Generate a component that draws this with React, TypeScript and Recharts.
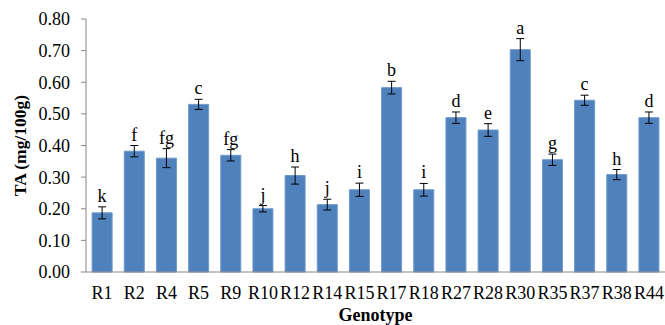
import { BarChart, Bar, XAxis, YAxis, ErrorBar, LabelList } from "recharts";

const genotypes = ["R1", "R2", "R4", "R5", "R9", "R10", "R12", "R14", "R15", "R17", "R18", "R27", "R28", "R30", "R35", "R37", "R38", "R44"];
const taValues = [0.187, 0.382, 0.36, 0.53, 0.369, 0.2, 0.305, 0.213, 0.26, 0.583, 0.26, 0.488, 0.449, 0.703, 0.355, 0.543, 0.308, 0.488];
const taErrors = [0.019, 0.018, 0.03, 0.016, 0.018, 0.01, 0.027, 0.017, 0.021, 0.02, 0.02, 0.018, 0.02, 0.035, 0.018, 0.016, 0.016, 0.018];
const letters = ["k", "f", "fg", "c", "fg", "j", "h", "j", "i", "b", "i", "d", "e", "a", "g", "c", "h", "d"];
const yTicks = [0, 0.1, 0.2, 0.3, 0.4, 0.5, 0.6, 0.7, 0.8];

const data = genotypes.map((name, i) => ({
  name,
  ta: taValues[i],
  err: taErrors[i],
  letter: letters[i],
}));

const FONT = "'Liberation Serif', 'Times New Roman', serif";

function LetterLabel(props: any) {
  const vb = props.viewBox || {};
  const x = props.x ?? vb.x;
  const y = props.y ?? vb.y;
  const width = props.width ?? vb.width;
  const height = props.height ?? vb.height;
  const d = data[props.index];
  if (!d) return null;
  const errPx = (d.err / d.ta) * height;
  return (
    <text
      x={x + width / 2}
      y={y - errPx - 5}
      textAnchor="middle"
      fontFamily={FONT}
      fontSize={18}
      fill="#000"
    >
      {d.letter}
    </text>
  );
}

export default function App() {
  return (
    <div style={{ position: "absolute", left: 0, top: 0, background: "#fff" }}>
      <BarChart
        width={665}
        height={325}
        data={data}
        margin={{ top: 19, right: 0, left: 30, bottom: 23 }}
        barCategoryGap="19%"
      >
        <XAxis
          dataKey="name"
          height={30}
          tickLine={false}
          stroke="#888"
          interval={0}
          tickMargin={8}
          tick={{ fill: "#000", fontSize: 18, fontFamily: FONT }}
          label={{
            value: "Genotype",
            position: "bottom",
            offset: 6,
            style: { fontFamily: FONT, fontWeight: "bold", fontSize: 18, fill: "#000" },
          }}
        />
        <YAxis
          width={56}
          domain={[0, 0.8]}
          ticks={yTicks}
          tickFormatter={(v: number) => v.toFixed(2)}
          tickSize={5}
          tickMargin={11}
          stroke="#888"
          tick={{ fill: "#000", fontSize: 18, fontFamily: FONT }}
          label={{
            value: "TA (mg/100g)",
            angle: -90,
            position: "center",
            dx: -38,
            style: { fontFamily: FONT, fontWeight: "bold", fontSize: 17.5, fill: "#000", textAnchor: "middle" },
          }}
        />
        <Bar dataKey="ta" fill="#4F81BD" stroke="#6E98CB" strokeWidth={1} isAnimationActive={false}>
          <ErrorBar dataKey="err" width={4} stroke="#000" strokeWidth={1} direction="y" />
          <LabelList dataKey="letter" content={LetterLabel} />
        </Bar>
      </BarChart>
    </div>
  );
}
